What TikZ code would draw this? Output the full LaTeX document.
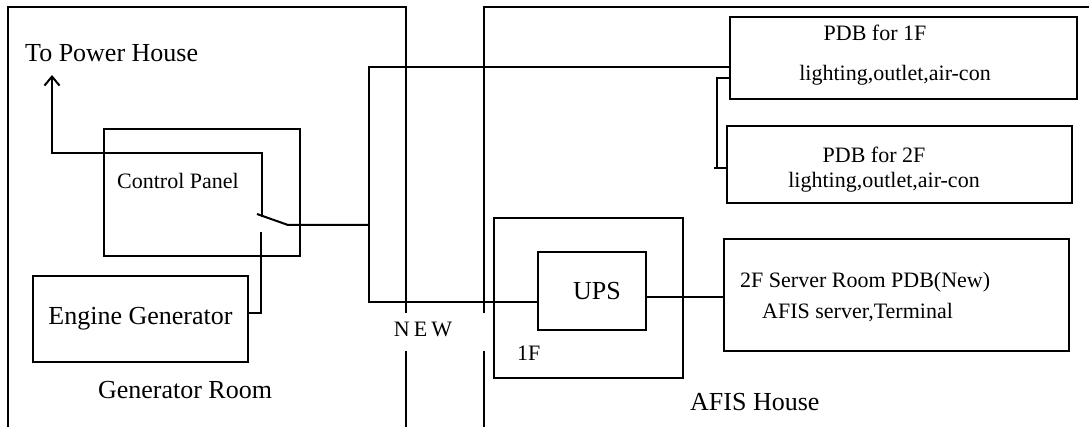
\documentclass[tikz,border=0pt]{standalone}
\usepackage{fontspec}
\setmainfont{Liberation Serif}
\usetikzlibrary{arrows.meta,calc}

\begin{document}
\begin{tikzpicture}[
    x=1pt, y=-1pt,
    unit/.style={draw, line width=2pt, inner sep=0pt, font=\fontsize{22}{26}\selectfont},
    lbl/.style={inner sep=0pt, font=\fontsize{22}{26}\selectfont},
    big/.style={inner sep=0pt, font=\fontsize{26}{30}\selectfont},
    wire/.style={line width=2pt},
    wall/.style={line width=2pt}
  ]
  \useasboundingbox (0,0) rectangle (1089,427);

  % rooms, with the opening for the new cable
  \draw[wall] (8,427) -- (8,7) -- (406,7) -- (406,313)
              (406,351) -- (406,427);
  \draw[wall] (484,427) -- (484,351)
              (484,313) -- (484,7) -- (1089,7);

  \node[unit, minimum width=196pt, minimum height=127pt] (panel)  at (202,192.5) {};
  \node[unit, big, minimum width=215pt, minimum height=86pt] (gen) at (140.5,319) {Engine Generator};
  \node[unit, minimum width=347pt, minimum height=82pt]  (pdbone) at (903.5,58)  {};
  \node[unit, minimum width=345pt, minimum height=77pt]  (pdbtwo) at (899.5,164.5) {};
  \node[unit, minimum width=189pt, minimum height=160pt] (floor)  at (588.5,298) {};
  \node[unit, big, minimum width=108pt, minimum height=78pt] (ups) at (592,291) {\hspace{10pt}UPS};
  \node[unit, minimum width=345pt, minimum height=112pt] (server) at (896.5,295) {};

  \node[big, anchor=west] (tph)      at (25,53)   {To Power House};
  \node[lbl, anchor=west] (paneltxt) at (117,181) {Control Panel};
  \node[big]              (genroom)  at (185,390) {Generator Room};
  \node[lbl]              (newtxt)   at (423,329) {N\kern4pt E\kern4pt W};
  \node[lbl, anchor=west] (floortxt) at (517,353) {1F};
  \node[big, anchor=west] (afis)     at (690,402) {AFIS House};
  \node[lbl] (pdbonea) at (875,33)  {PDB for 1F};
  \node[lbl] (pdboneb) at (895,75)  {lighting,outlet,air-con};
  \node[lbl] (pdbtwoa) at (874,155) {PDB for 2F};
  \node[lbl] (pdbtwob) at (884,182) {lighting,outlet,air-con};
  \node[lbl, anchor=west] (servera) at (740,282) {2F Server Room PDB(New)};
  \node[lbl, anchor=west] (serverb) at (762,313) {AFIS server,Terminal};

  \coordinate (swtop)   at (262,217);
  \coordinate (swfree)  at (257,214);
  \coordinate (swpivot) at (288,225);
  \coordinate (swbot)   at (261,232);
  \coordinate (bend)    at (52,153);
  \coordinate (tip)     at (52,75);
  \coordinate (bustop)  at (369,67);
  \coordinate (busbot)  at (369,302);
  \coordinate (tapa)    at (717,78);
  \coordinate (tapb)    at (714,168);
  \coordinate (upsout)  at (646,297);

  % feed back to the power house
  \draw[wire, -{Straight Barb[length=9pt,width=15pt]}] (swtop) |- (bend) -- (tip);

  % change-over switch
  \draw[wire] (swfree) -- (swpivot) -- (swpivot -| bustop);
  \draw[wire] (swbot) |- ([yshift=6pt]gen.east);

  % new cable to the AFIS house
  \draw[wire] (pdbone.west |- bustop) -- (bustop) -- (busbot) -- (ups.west |- busbot);
  \draw[wire] (pdbone.west |- tapa) -- (tapa) -- (tapa |- tapb);
  \draw[wire] (tapb) -- (pdbtwo.west |- tapb);
  \draw[wire] (upsout) -- (server.west |- upsout);
\end{tikzpicture}
\end{document}
